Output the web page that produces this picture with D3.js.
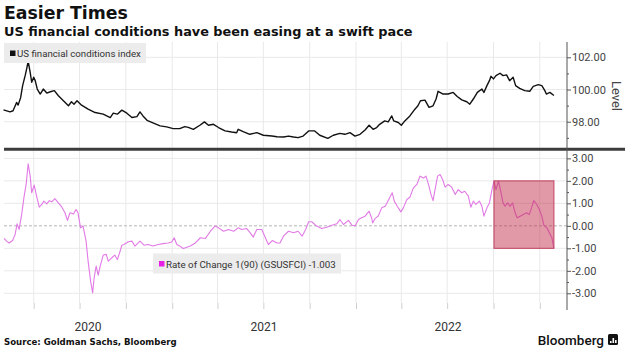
<!DOCTYPE html>
<html><head><meta charset="utf-8">
<script src="https://cdn.jsdelivr.net/npm/d3@7"></script>
<style>body{margin:0;background:#fff}svg{display:block}</style>
</head><body><svg id="c" width="630" height="353"></svg>
<script>
const titleText = "Easier Times";
const subtitleText = "US financial conditions have been easing at a swift pace";
const sourceText = "Source: Goldman Sachs, Bloomberg";
const fciLabel = "US financial conditions index";
const rocLabel = "Rate of Change 1(90) (GSUSFCI) -1.003";
const axisTitle = "Level";

const fciDates = ["2020-02-01","2020-02-14","2020-02-20","2020-02-27","2020-03-01","2020-03-06","2020-03-10","2020-03-15","2020-03-18","2020-03-21","2020-03-25","2020-03-28","2020-04-01","2020-04-04","2020-04-08","2020-04-14","2020-04-20","2020-04-27","2020-05-04","2020-05-12","2020-05-20","2020-05-30","2020-06-09","2020-06-15","2020-06-20","2020-06-26","2020-07-05","2020-07-18","2020-08-01","2020-08-17","2020-08-31","2020-09-06","2020-09-14","2020-09-23","2020-10-03","2020-10-13","2020-10-23","2020-10-29","2020-11-04","2020-11-12","2020-11-25","2020-12-08","2020-12-21","2021-01-03","2021-01-16","2021-01-26","2021-02-02","2021-02-12","2021-02-25","2021-03-06","2021-03-14","2021-03-24","2021-04-03","2021-04-16","2021-04-29","2021-05-09","2021-05-12","2021-05-22","2021-06-04","2021-06-18","2021-07-01","2021-07-18","2021-07-28","2021-08-10","2021-08-20","2021-08-30","2021-09-08","2021-09-18","2021-09-29","2021-10-11","2021-10-21","2021-11-06","2021-11-17","2021-11-30","2021-12-10","2021-12-20","2021-12-30","2022-01-09","2022-01-19","2022-01-27","2022-02-04","2022-02-11","2022-02-17","2022-02-27","2022-03-06","2022-03-13","2022-03-17","2022-03-26","2022-04-01","2022-04-08","2022-04-18","2022-04-28","2022-05-04","2022-05-09","2022-05-18","2022-05-26","2022-06-03","2022-06-09","2022-06-13","2022-06-23","2022-07-03","2022-07-13","2022-07-21","2022-07-30","2022-08-09","2022-08-15","2022-08-22","2022-08-30","2022-09-08","2022-09-12","2022-09-18","2022-09-23","2022-09-26","2022-10-01","2022-10-06","2022-10-14","2022-10-20","2022-10-27","2022-11-02","2022-11-09","2022-11-14","2022-11-22","2022-12-02","2022-12-12","2022-12-19","2022-12-29","2023-01-05","2023-01-11","2023-01-14","2023-01-21","2023-01-29"];
const fciValues = [98.74,98.61,98.68,99.20,99.03,99.49,100.24,100.86,101.28,101.74,101.07,100.45,100.76,100.55,100.03,99.72,100.03,99.78,99.86,99.93,99.61,99.30,98.99,99.24,99.09,99.30,99.03,98.78,98.57,98.47,98.26,98.53,98.47,98.72,98.53,98.26,98.32,98.61,98.36,98.09,97.91,97.74,97.68,97.57,97.57,97.70,97.65,97.53,97.78,97.99,97.78,97.84,97.64,97.43,97.36,97.32,97.53,97.39,97.22,97.32,97.16,97.11,97.07,97.05,97.11,97.05,97.01,97.11,97.43,97.43,97.16,96.97,97.16,97.28,97.22,97.32,97.11,97.22,97.49,97.78,97.53,97.64,97.84,98.05,97.99,98.36,98.05,97.95,97.78,98.05,98.36,98.78,98.99,99.30,99.34,98.89,98.99,99.41,99.89,99.72,99.72,99.82,99.57,99.36,99.24,99.09,99.41,99.82,100.03,99.82,100.24,100.55,100.82,100.66,100.86,101.01,100.86,100.91,100.55,100.76,100.24,100.07,99.93,99.89,100.20,100.30,100.24,99.93,99.72,99.82,99.63];

const rocDates = ["2020-02-02","2020-02-07","2020-02-12","2020-02-19","2020-02-24","2020-02-28","2020-03-03","2020-03-08","2020-03-13","2020-03-17","2020-03-21","2020-03-25","2020-03-28","2020-04-02","2020-04-06","2020-04-12","2020-04-17","2020-04-21","2020-04-27","2020-05-02","2020-05-07","2020-05-13","2020-05-20","2020-05-27","2020-06-02","2020-06-07","2020-06-12","2020-06-19","2020-06-24","2020-06-28","2020-07-03","2020-07-08","2020-07-14","2020-07-18","2020-07-23","2020-07-27","2020-07-30","2020-08-03","2020-08-07","2020-08-11","2020-08-17","2020-08-23","2020-08-27","2020-09-03","2020-09-09","2020-09-14","2020-09-18","2020-09-23","2020-09-27","2020-10-06","2020-10-13","2020-10-19","2020-10-29","2020-11-06","2020-11-14","2020-11-24","2020-12-04","2020-12-14","2020-12-24","2020-12-31","2021-01-05","2021-01-10","2021-01-16","2021-01-23","2021-01-30","2021-02-06","2021-02-16","2021-02-26","2021-03-08","2021-03-18","2021-03-27","2021-04-03","2021-04-13","2021-04-23","2021-05-03","2021-05-12","2021-05-19","2021-05-29","2021-06-05","2021-06-11","2021-06-18","2021-06-28","2021-07-05","2021-07-11","2021-07-19","2021-07-28","2021-08-03","2021-08-10","2021-08-20","2021-08-30","2021-09-08","2021-09-16","2021-09-23","2021-09-29","2021-10-05","2021-10-15","2021-10-25","2021-11-04","2021-11-14","2021-11-24","2021-11-30","2021-12-07","2021-12-17","2021-12-24","2021-12-30","2022-01-06","2022-01-12","2022-01-19","2022-01-27","2022-02-01","2022-02-03","2022-02-08","2022-02-14","2022-02-21","2022-02-28","2022-03-07","2022-03-14","2022-03-18","2022-03-24","2022-03-31","2022-04-05","2022-04-12","2022-04-18","2022-04-25","2022-05-02","2022-05-08","2022-05-15","2022-05-20","2022-05-25","2022-05-30","2022-06-03","2022-06-07","2022-06-12","2022-06-17","2022-06-22","2022-06-27","2022-07-03","2022-07-10","2022-07-17","2022-07-23","2022-07-30","2022-08-05","2022-08-12","2022-08-17","2022-08-22","2022-08-27","2022-09-03","2022-09-08","2022-09-12","2022-09-18","2022-09-23","2022-09-28","2022-10-02","2022-10-06","2022-10-11","2022-10-16","2022-10-20","2022-10-24","2022-10-29","2022-11-03","2022-11-08","2022-11-13","2022-11-17","2022-11-23","2022-11-29","2022-12-06","2022-12-11","2022-12-16","2022-12-20","2022-12-26","2022-12-31","2023-01-05","2023-01-09","2023-01-15","2023-01-20","2023-01-25","2023-01-29"];
const rocValues = [-0.56,-0.68,-0.76,-0.65,-0.39,0.09,-0.16,0.50,1.32,1.84,2.76,2.21,1.47,1.81,1.39,0.83,0.95,1.10,0.98,1.12,1.07,1.21,1.02,0.83,0.58,0.24,0.58,0.53,0.73,0.58,-0.09,-0.01,-0.68,-1.57,-2.46,-2.98,-2.31,-1.79,-2.19,-1.79,-1.30,-1.27,-1.57,-1.42,-1.30,-1.50,-1.24,-0.86,-0.83,-0.71,-0.68,-0.90,-0.68,-0.86,-0.83,-0.90,-0.83,-0.79,-0.76,-0.72,-0.53,-0.83,-0.90,-1.01,-0.95,-0.90,-0.76,-0.53,-0.56,-0.24,-0.01,-0.09,-0.24,-0.16,-0.24,-0.09,-0.16,-0.12,-0.31,-0.50,-0.16,-0.16,-0.53,-0.83,-0.65,-0.76,-0.76,-0.46,-0.24,-0.31,-0.24,-0.46,-0.16,0.18,0.18,-0.01,-0.12,-0.06,0.03,0.09,0.28,0.06,0.24,0.03,-0.01,0.28,0.36,0.43,0.65,0.35,0.13,0.33,0.43,0.80,0.87,1.17,1.47,1.10,0.87,0.62,0.80,1.17,1.27,1.69,1.84,2.21,2.13,2.21,1.84,1.39,1.12,1.61,2.21,2.28,2.06,1.72,1.84,1.72,1.39,1.61,1.47,1.54,1.32,0.83,1.10,0.95,1.10,0.87,0.43,0.80,1.02,1.61,1.99,1.61,1.99,1.47,1.02,0.87,1.02,0.87,1.02,0.58,0.36,0.43,0.50,0.58,0.50,0.83,1.12,0.95,0.73,0.43,0.03,-0.09,-0.31,-0.53,-1.003];

const levelTicks = [98, 100, 102];
const levelMinorTicks = [97, 99, 101];
const rocTicks = [-3, -2, -1, 0, 1, 2, 3];
const rocMinorTicks = [-2.5, -1.5, -0.5, 0.5, 1.5, 2.5];
const yearLabels = [2020, 2021, 2022];
const highlightDates = ["2022-10-02", "2023-01-29"];
const highlightValues = [-1, 2];
const xDomainDates = ["2020-02-02", "2023-02-24"];

const parse = d3.timeParse("%Y-%m-%d");
const svg = d3.select("#c");
const X0 = 4, X1 = 567;
const x = d3.scaleTime().domain(xDomainDates.map(parse)).range([X0, X1]);
const yTop = d3.scaleLinear().domain([96.4, 102.95]).range([147.5, 42]);
const yBot = d3.scaleLinear().domain([-3.52, 3.35]).range([305, 150.5]);

function fit(t, w) {
  const l = t.node().getComputedTextLength();
  const fs = parseFloat(t.attr("font-size"));
  t.attr("font-size", fs * w / l);
}

// titles
const tt = svg.append("text").attr("x", 4).attr("y", 19).attr("font-family", "DejaVu Sans").attr("font-weight", "bold")
  .attr("font-size", 17).attr("fill", "#111").text(titleText);
fit(tt, 124);
const st = svg.append("text").attr("x", 4).attr("y", 36).attr("font-family", "DejaVu Sans").attr("font-weight", "bold")
  .attr("font-size", 13).attr("fill", "#111").text(subtitleText);
fit(st, 409);

// vertical grid (quarterly)
const quarters = x.ticks(d3.timeMonth.every(3)).filter(d => d.getMonth() % 3 === 0);
svg.append("g").selectAll("line").data(quarters).join("line")
  .attr("x1", d => x(d)).attr("x2", d => x(d)).attr("y1", 42).attr("y2", 303)
  .attr("stroke", "#e9e9e9").attr("stroke-width", 1);

// horizontal grids
svg.append("g").selectAll("line").data(levelTicks).join("line")
  .attr("x1", X0).attr("x2", X1).attr("y1", d => yTop(d)).attr("y2", d => yTop(d))
  .attr("stroke", "#e9e9e9");
svg.append("g").selectAll("line").data(rocTicks.filter(d => d !== 0)).join("line")
  .attr("x1", X0).attr("x2", X1).attr("y1", d => yBot(d)).attr("y2", d => yBot(d))
  .attr("stroke", "#e9e9e9");
svg.append("line").attr("x1", X0).attr("x2", X1).attr("y1", yBot(0)).attr("y2", yBot(0))
  .attr("stroke", "#b5b5b5").attr("stroke-dasharray", "3,2");

// bottom quarterly ticks
const xAxis = svg.append("g").attr("transform", "translate(0,303)")
  .call(d3.axisBottom(x).tickValues(quarters).tickSize(6).tickFormat(""));
xAxis.select(".domain").remove();
xAxis.selectAll("line").attr("stroke", "#cfcfcf");

// year labels
const yearG = svg.append("g");
yearLabels.forEach(yr => {
  const a = Math.max(x(new Date(yr, 0, 1)), X0);
  const b = Math.min(x(new Date(yr + 1, 0, 1)), X1);
  yearG.append("text").attr("x", (a + b) / 2).attr("y", 331).attr("text-anchor", "middle")
    .attr("font-family", "Roboto").attr("font-size", 12).attr("fill", "#333").text(yr);
});

// lines
const fciData = fciDates.map((d, i) => ({ d: parse(d), v: fciValues[i] }));
const rocData = rocDates.map((d, i) => ({ d: parse(d), v: rocValues[i] }));
svg.append("path").datum(fciData)
  .attr("d", d3.line().x(p => x(p.d)).y(p => yTop(p.v)))
  .attr("fill", "none").attr("stroke", "#111").attr("stroke-width", 1.4).attr("stroke-linejoin", "round");
svg.append("path").datum(rocData)
  .attr("d", d3.line().x(p => x(p.d)).y(p => yBot(p.v)))
  .attr("fill", "none").attr("stroke", "#e27ae6").attr("stroke-width", 1.1).attr("stroke-linejoin", "round");

// highlight box
svg.append("rect")
  .attr("x", x(parse(highlightDates[0]))).attr("width", x(parse(highlightDates[1])) - x(parse(highlightDates[0])))
  .attr("y", yBot(highlightValues[1])).attr("height", yBot(highlightValues[0]) - yBot(highlightValues[1]))
  .attr("fill", "#c02848").attr("fill-opacity", 0.48).attr("stroke", "#c04060").attr("stroke-width", 1);

// separator
svg.append("line").attr("x1", X0).attr("x2", 625).attr("y1", 149.3).attr("y2", 149.3)
  .attr("stroke", "#3c3c3c").attr("stroke-width", 3);

// right axes
function styleAxis(g) {
  g.select(".domain").remove();
  g.selectAll("line").attr("stroke", "#555");
  g.selectAll("text").attr("font-family", "Roboto").attr("font-size", 11).attr("fill", "#444");
}
svg.append("g").attr("transform", `translate(${X1},0)`)
  .call(d3.axisRight(yTop).tickValues(levelTicks).tickSize(4).tickPadding(1).tickFormat(d => d.toFixed(2))).call(styleAxis);
svg.append("g").attr("transform", `translate(${X1},0)`)
  .call(d3.axisRight(yTop).tickValues(levelMinorTicks).tickSize(2).tickFormat("")).call(styleAxis);
svg.append("g").attr("transform", `translate(${X1},0)`)
  .call(d3.axisRight(yBot).tickValues(rocTicks).tickSize(4).tickPadding(1).tickFormat(d => d.toFixed(2))).call(styleAxis);
svg.append("g").attr("transform", `translate(${X1},0)`)
  .call(d3.axisRight(yBot).tickValues(rocMinorTicks).tickSize(2).tickFormat("")).call(styleAxis);
svg.append("line").attr("x1", X1).attr("x2", X1).attr("y1", 42).attr("y2", 310).attr("stroke", "#555");

svg.append("text").attr("transform", `translate(612,96) rotate(90)`).attr("text-anchor", "middle")
  .attr("font-family", "Roboto").attr("font-size", 13).attr("fill", "#444").text(axisTitle);

// legends
function legend(x0, y0, h, color, label, textW) {
  const g = svg.append("g");
  const r = g.append("rect").attr("x", x0).attr("y", y0).attr("height", h).attr("fill", "#ececec");
  g.append("rect").attr("x", x0 + 6).attr("y", y0 + h / 2 - 2.5).attr("width", 5.5).attr("height", 5.5).attr("fill", color);
  const t = g.append("text").attr("x", x0 + 13).attr("y", y0 + h / 2 + 4).attr("font-family", "Roboto")
    .attr("font-size", 10.5).attr("fill", "#333").text(label);
  fit(t, textW);
  r.attr("width", textW + 18);
}
legend(4, 43, 20, "#111", fciLabel, 124);
legend(153, 253.5, 20, "#e61ee6", rocLabel, 170);

// footer
const src = svg.append("text").attr("x", 4).attr("y", 345).attr("font-family", "DejaVu Sans").attr("font-weight", "bold")
  .attr("font-size", 10).attr("fill", "#111").text(sourceText);
fit(src, 173);
const bb = svg.append("text").attr("x", 604).attr("y", 345).attr("text-anchor", "end").attr("font-family", "Roboto")
  .attr("font-weight", 500).attr("font-size", 13.5).attr("fill", "#111").text("Bloomberg");
const logo = svg.append("g");
logo.append("rect").attr("x", 608).attr("y", 334).attr("width", 10).attr("height", 11).attr("rx", 1.5).attr("fill", "#111");
[[610, 341, 2], [612.5, 338, 5], [615, 340, 3]].forEach(([lx, ly, lh]) =>
  logo.append("rect").attr("x", lx).attr("y", ly).attr("width", 1.6).attr("height", lh).attr("fill", "#fff"));
</script></body></html>
